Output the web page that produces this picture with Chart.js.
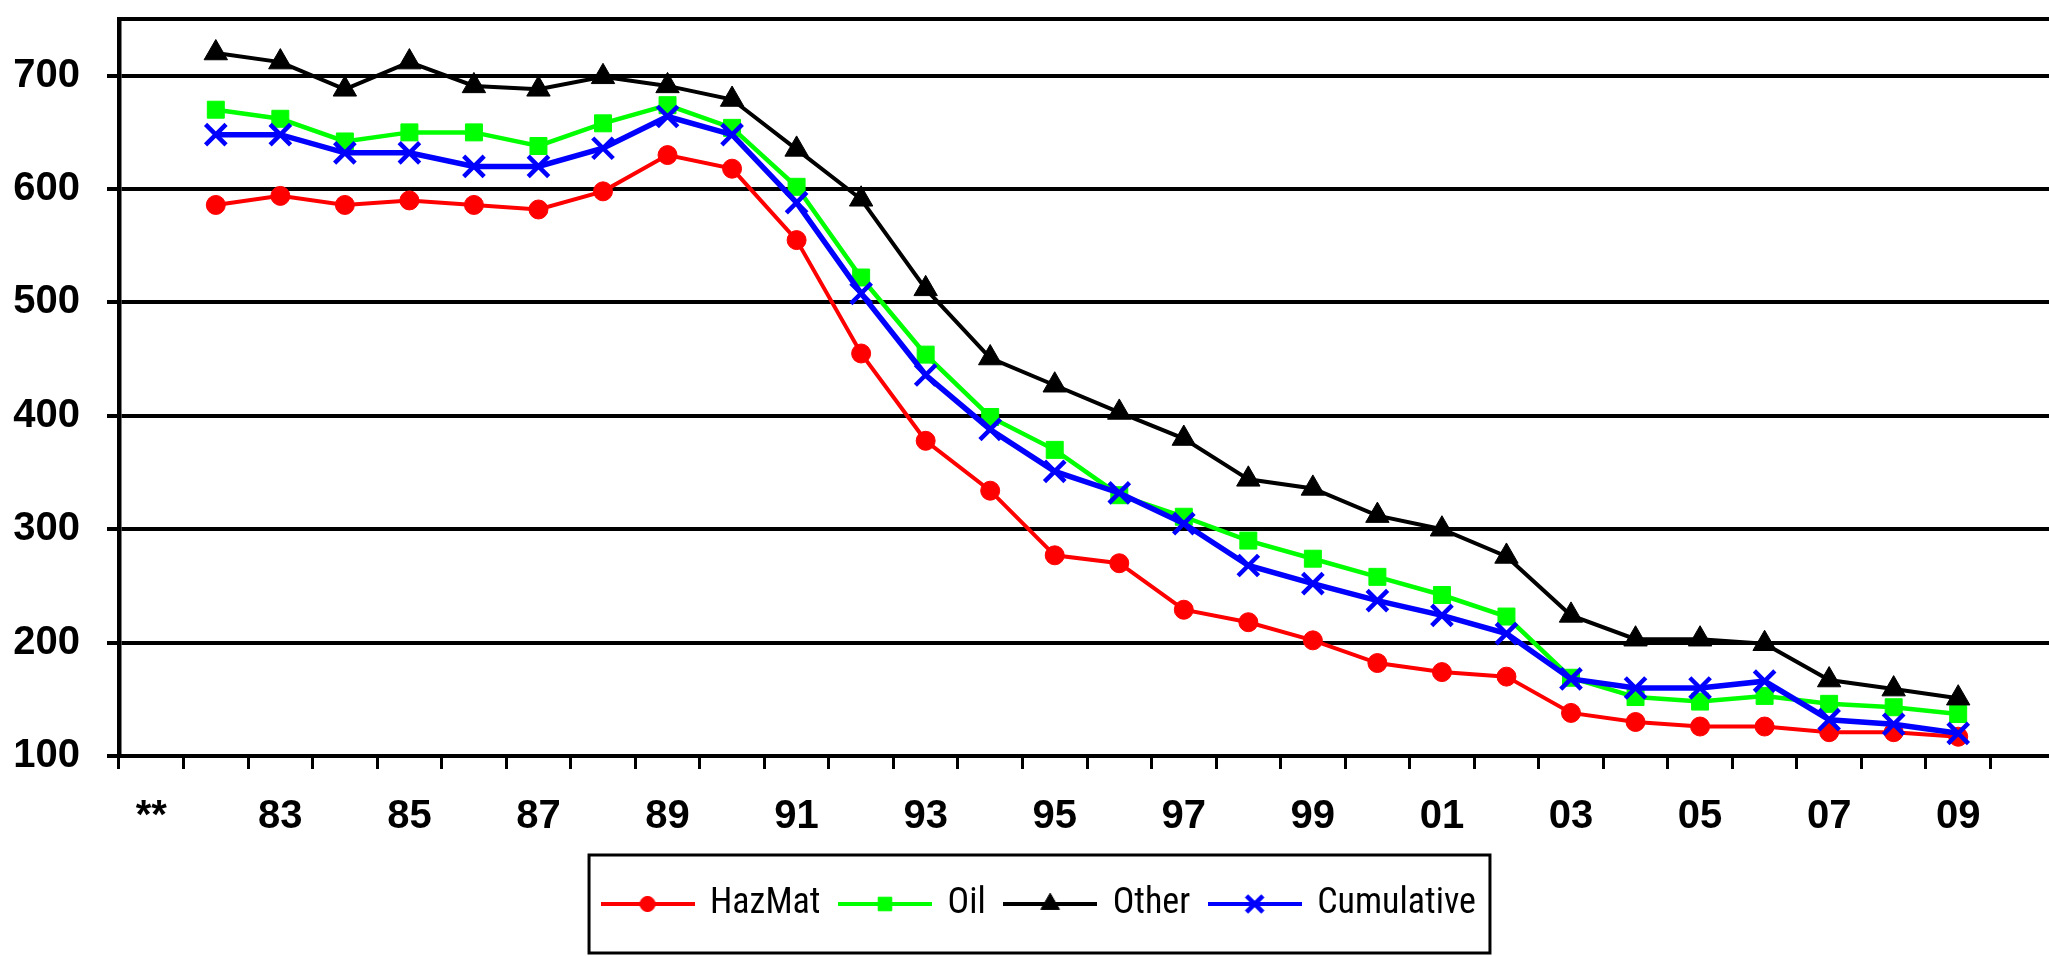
<!DOCTYPE html>
<html>
<head>
<meta charset="utf-8">
<title>Incidents by year</title>
<script src="https://cdn.jsdelivr.net/npm/chart.js@4.4.1/dist/chart.umd.min.js"></script>
<style>
  html, body { margin: 0; padding: 0; background: #fff; overflow: hidden; }
  #wrap { width: 2100px; height: 956px; }
</style>
</head>
<body>
<div id="wrap"><canvas id="chart" width="2100" height="956"></canvas></div>
<script>
// ====== DATA ======
const years = ['**','82','83','84','85','86','87','88','89','90','91','92','93','94','95',
               '96','97','98','99','00','01','02','03','04','05','06','07','08','09','10'];
const yTicks = [100, 200, 300, 400, 500, 600, 700];

const hazmat     = [null, 586,594,586,590,586,582,598,630, 618,555,455,378,334,277,270,229,
                    218,202,182,174,170,138,130,126,126,121,121,117, null];
const oil        = [null, 670,662,642,650,650,638,658,674, 654,602,522,454,399,370,330,311,
                    290,274,258,242,223,169,152,148,153,146,143,137, null];
const other      = [null, 720,712,688,712,691,688,699,691, 679,635,591,512,451,427,403,380,
                    344,336,312,300,276,224,203,203,199,167,159,151, null];
const cumulative = [null, 648,648,632,632,620,620,636,664, 648,588,508,436,388,351,332,305,
                    268,252,237,224,208,168,160,160,166,132,128,120, null];

// ====== STYLE ======
const AXIS_FONT = { family: 'Liberation Sans', size: 40, weight: 'bold' };
const LEGEND_FONT = { family: "'Roboto Condensed', 'DejaVu Sans Condensed', sans-serif", size: 36 };

const series = [
  { label: 'HazMat',     data: hazmat,     color: '#ff0000', width: 4,   style: 'circle',   r: 9.5,  bw: 1 },
  { label: 'Oil',        data: oil,        color: '#00ff00', width: 4.5, style: 'rect',     r: 12,   bw: 1 },
  { label: 'Other',      data: other,      color: '#000000', width: 4,   style: 'triangle', r: 13.5, bw: 1 },
  { label: 'Cumulative', data: cumulative, color: '#0000ff', width: 5.5, style: 'crossRot', r: 14.5, bw: 4.5 },
];

// legend icon: line segment with the marker in the middle
function legendIcon(s) {
  const c = document.createElement('canvas');
  c.width = 94; c.height = 30;
  const g = c.getContext('2d');
  g.strokeStyle = s.color; g.lineWidth = 4;
  g.beginPath(); g.moveTo(0, 15); g.lineTo(94, 15); g.stroke();
  g.fillStyle = s.color; g.strokeStyle = s.color; g.lineWidth = s.bw;
  Chart.helpers.drawPoint(g, { pointStyle: s.style, radius: s.r * 0.8, rotation: 0, borderWidth: s.bw }, 47, 15);
  return c;
}
const icons = series.map(legendIcon);

// top frame line, legend shift and legend border
const framePlugin = {
  id: 'frame',
  afterLayout(chart) {
    // plot runs past the right edge, so re-centre the legend on the visible page
    const lg = chart.legend;
    if (lg) { lg.left += 12; lg.right += 12; }
  },
  beforeDatasetsDraw(chart) {
    const { ctx, chartArea: a } = chart;
    ctx.save();
    ctx.strokeStyle = '#000'; ctx.lineWidth = 4;
    ctx.beginPath(); ctx.moveTo(a.left - 2, a.top); ctx.lineTo(a.right, a.top); ctx.stroke();
    ctx.restore();
  },
  afterDraw(chart) {
    const lg = chart.legend;
    if (!lg || !lg.legendHitBoxes.length) return;
    const hb = lg.legendHitBoxes;
    const first = hb[0], last = hb[hb.length - 1];
    const cy = first.top + first.height / 2;
    const { ctx } = chart;
    ctx.save();
    ctx.strokeStyle = '#000'; ctx.lineWidth = 3;
    ctx.strokeRect(first.left - 14, cy - 49, (last.left + last.width + 14) - (first.left - 14), 98);
    ctx.restore();
  }
};

new Chart(document.getElementById('chart'), {
  type: 'line',
  data: {
    labels: years,
    datasets: series.map((s, i) => ({
      label: s.label,
      data: s.data,
      borderColor: s.color,
      backgroundColor: s.color,
      borderWidth: s.width,
      pointStyle: s.style,
      pointRadius: s.r,
      pointBackgroundColor: s.color,
      pointBorderColor: s.color,
      pointBorderWidth: s.bw,
      tension: 0,
      fill: false,
      order: series.length - i,
    }))
  },
  options: {
    responsive: false,
    animation: false,
    events: [],
    layout: { padding: { left: 0, right: 45, top: 8, bottom: 24 } },
    plugins: {
      tooltip: { enabled: false },
      legend: {
        position: 'bottom',
        labels: {
          usePointStyle: true,
          pointStyleWidth: 89,
          padding: 20,
          color: '#000',
          font: LEGEND_FONT,
          generateLabels: chart => series.map((s, i) => ({
            text: s.label, pointStyle: icons[i], datasetIndex: i, hidden: false,
            fillStyle: s.color, strokeStyle: s.color, lineWidth: 0, fontColor: '#000'
          }))
        }
      }
    },
    scales: {
      x: {
        offset: true,
        grid: { offset: true, drawOnChartArea: false, drawTicks: true, tickLength: 13, tickColor: '#000', tickWidth: 3 },
        border: { display: true, color: '#000', width: 4 },
        ticks: {
          autoSkip: false, maxRotation: 0, padding: 24, color: '#000', font: AXIS_FONT,
          callback: function (v, i) { return i % 2 === 0 ? this.getLabelForValue(v) : ''; }
        },
        afterFit: s => { s.height = 110; s.paddingLeft = 0; s.paddingRight = 0; }
      },
      y: {
        min: 100, max: 750,
        afterBuildTicks: s => { s.ticks = yTicks.map(v => ({ value: v })); },
        grid: { color: '#000', lineWidth: 4, tickLength: 12, drawTicks: true },
        border: { display: true, color: '#000', width: 4.5 },
        ticks: { padding: 27, color: '#000', font: AXIS_FONT },
        afterFit: s => { s.width = 119; s.paddingTop = 0; s.paddingBottom = 0; }
      }
    }
  },
  plugins: [framePlugin]
});
</script>
</body>
</html>
